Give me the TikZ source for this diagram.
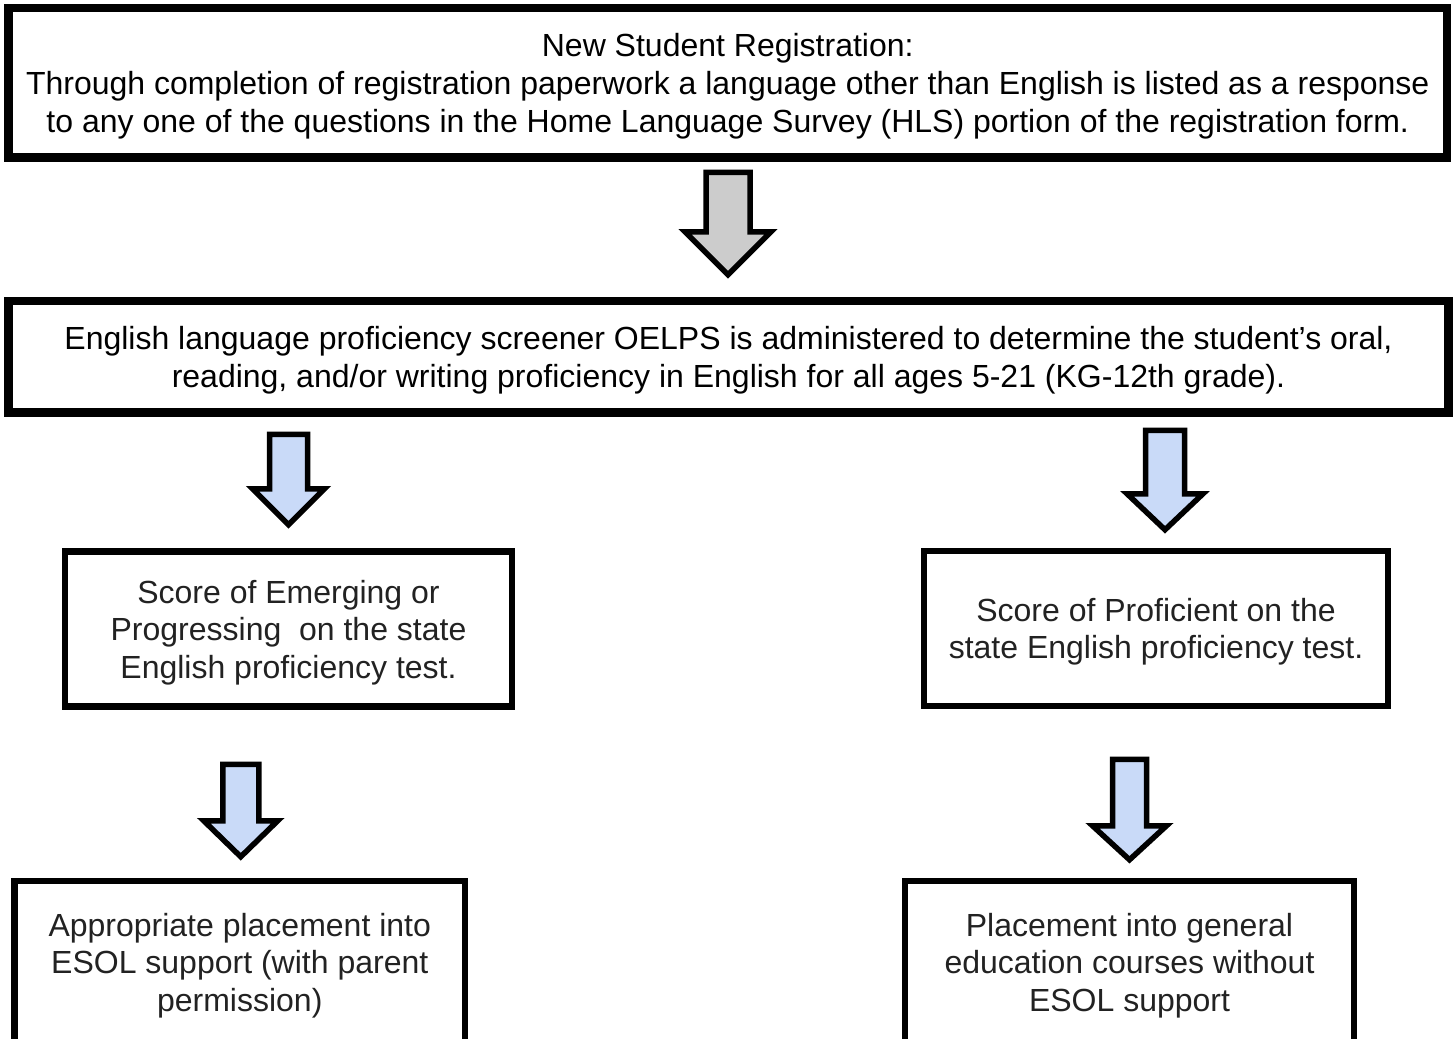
\documentclass[tikz,border=0pt]{standalone}
\usepackage{fontspec}
\setmainfont{Liberation Sans}
\usepackage{xcolor}
\usepackage{tikz}
\usetikzlibrary{calc}

\definecolor{arrowblue}{HTML}{C9DAF8}
\definecolor{arrowgray}{HTML}{CCCCCC}
\definecolor{textgray}{HTML}{222222}

% block arrow: top point, tip point, half shaft, half head, head length
\newcommand{\blockarrow}[6][]{%
  \draw[blockarrow, #1] let \p1 = #2, \p2 = #3 in
    (\x2-#4, \y1) -- (\x2+#4, \y1) -- (\x2+#4, \y2+#6) -- (\x2+#5, \y2+#6)
    -- (\x2, \y2) -- (\x2-#5, \y2+#6) -- (\x2-#4, \y2+#6) -- cycle;
}

\begin{document}
\begin{tikzpicture}[
    x=1pt, y=-1pt,
    bigbox/.style={rectangle, draw=black, line width=8.5pt, align=center, inner sep=0pt, text depth=-1pt, font=\fontsize{32}{38}\selectfont},
    smallbox/.style={rectangle, draw=black, line width=6.5pt, align=center, inner sep=0pt, text depth=-1pt, text=textgray, font=\fontsize{32}{37.5}\selectfont},
    blockarrow/.style={draw=black, line width=5.5pt, line join=miter}
]
\clip (0,0) rectangle (1455,1038);

\node[bigbox, minimum width=1438.5pt, minimum height=149.5pt](reg) at (727.75, 82.75)
    {New Student Registration:\\Through completion of registration paperwork a language other than English is listed as a response\\to any one of the questions in the Home Language Survey (HLS) portion of the registration form.};
\node[bigbox, minimum width=1440pt, minimum height=111.5pt](screen) at (728.5, 356.75)
    {English language proficiency screener OELPS is administered to determine the student’s oral,\\reading, and/or writing proficiency in English for all ages 5-21 (KG-12th grade).};
\node[smallbox, minimum width=447pt, minimum height=155pt](emerging) at (288.5, 629)
    {Score of Emerging or\\Progressing~ on the state\\English proficiency test.};
\node[smallbox, minimum width=464pt, minimum height=155pt](proficient) at (1156, 628.5)
    {Score of Proficient on the\\state English proficiency test.};
\node[smallbox, minimum width=450.5pt, minimum height=162pt](esol) at (239.75, 962)
    {Appropriate placement into\\ESOL support (with parent\\permission)};
\node[smallbox, minimum width=449pt, minimum height=162pt](general) at (1129.5, 962)
    {Placement into general\\education courses without\\ESOL support};

\blockarrow[fill=arrowgray]{([yshift=-10.5pt]reg.south)}{([xshift=-0.5pt, yshift=22pt]screen.north)}{22pt}{43pt}{43pt}
\blockarrow[fill=arrowblue]{([yshift=-17.5pt]screen.south)}{([yshift=23.5pt]emerging.north)}{19pt}{36pt}{36pt}
\blockarrow[fill=arrowblue]{([yshift=-13.5pt]screen.south)}{([xshift=9pt, yshift=18pt]proficient.north)}{19.5pt}{38pt}{36pt}
\blockarrow[fill=arrowblue]{([yshift=-54.5pt]emerging.south)}{([xshift=1pt, yshift=21pt]esol.north)}{18pt}{37pt}{36pt}
\blockarrow[fill=arrowblue]{([yshift=-50pt]proficient.south)}{([yshift=18pt]general.north)}{17pt}{37pt}{34pt}
\end{tikzpicture}
\end{document}
